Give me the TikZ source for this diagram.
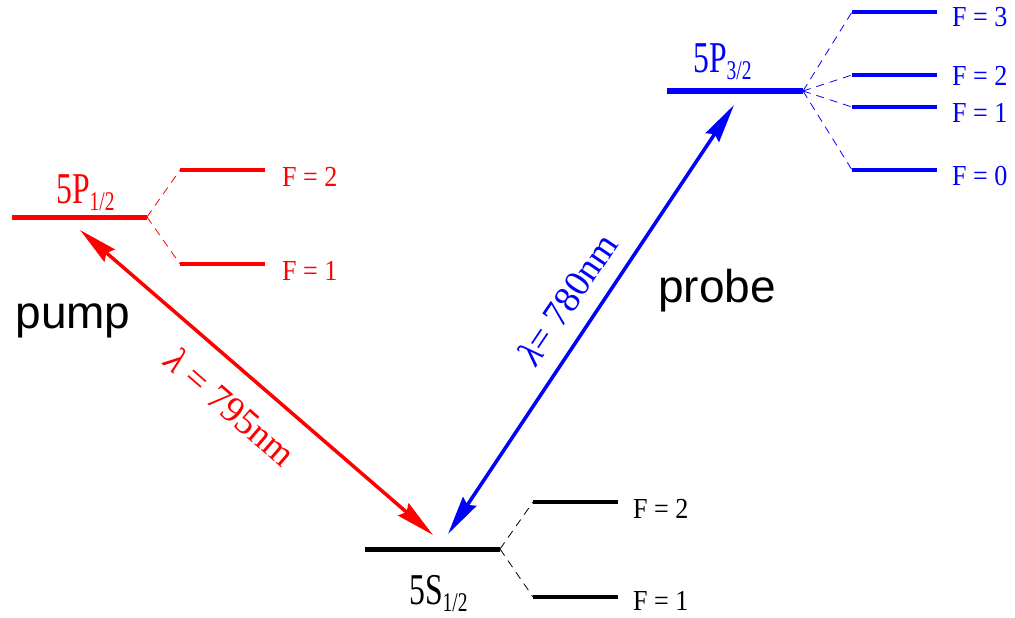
\documentclass[tikz,border=0pt]{standalone}
\usepackage{fontspec}
\setmainfont{Liberation Serif}
\setsansfont{Liberation Sans}
\usetikzlibrary{arrows.meta}
\definecolor{pred}{RGB}{255,0,0}
\definecolor{pblue}{RGB}{0,0,255}
\newcommand{\lvlname}[2]{\scalebox{0.72}[1]{\fontsize{44}{44}\selectfont 5#1\raisebox{-7pt}{\fontsize{27}{27}\selectfont #2}}}
\newcommand{\flabel}[1]{\scalebox{0.9}[1]{\fontsize{29}{29}\selectfont #1}}
\begin{document}
\begin{tikzpicture}[x=1pt,y=-1pt,
  mainlvl/.style={line width=5pt},
  sublvl/.style={line width=4pt},
  split/.style={line width=0.8pt, dash pattern=on 8pt off 6pt},
  flab/.style={anchor=base west, inner sep=0pt},
  lvllab/.style={anchor=base west, inner sep=0pt},
  trans/.style={line width=3.5pt, {Stealth[length=39pt,width=16pt,inset=4pt]}-{Stealth[length=39pt,width=16pt,inset=4pt]}},
  beam/.style={font=\sffamily\fontsize{46}{46}\selectfont, inner sep=0pt, anchor=base},
  wl/.style={font=\fontsize{37}{37}\selectfont, inner sep=0pt}]
\useasboundingbox (0,0) rectangle (1015,618);

% ---------- 5S_{1/2} (black) ----------
\coordinate (sL) at (365,549);
\coordinate (sR) at (500,549);
\coordinate (s2L) at (533,502);
\coordinate (s2R) at (618,502);
\coordinate (s1L) at (533,597);
\coordinate (s1R) at (618,597);
\draw[mainlvl] (sL) -- (sR);
\draw[sublvl] (s2L) -- (s2R);
\draw[sublvl] (s1L) -- (s1R);
\draw[split] (sR) -- (s2L);
\draw[split] (sR) -- (s1L);
\node[flab] (sF2) at (633,518) {\flabel{F = 2}};
\node[flab] (sF1) at (633,610) {\flabel{F = 1}};
\node[lvllab] (sLab) at (409,604) {\lvlname{S}{1/2}};

% ---------- 5P_{1/2} (red) ----------
\begin{scope}[pred]
\coordinate (pL) at (12,217);
\coordinate (pR) at (147,217);
\coordinate (p2L) at (180,170);
\coordinate (p2R) at (265,170);
\coordinate (p1L) at (180,264);
\coordinate (p1R) at (265,264);
\draw[mainlvl] (pL) -- (pR);
\draw[sublvl] (p2L) -- (p2R);
\draw[sublvl] (p1L) -- (p1R);
\draw[split] (pR) -- (p2L);
\draw[split] (pR) -- (p1L);
\node[flab, text=pred] (pF2) at (282,186) {\flabel{F = 2}};
\node[flab, text=pred] (pF1) at (282,280) {\flabel{F = 1}};
\node[lvllab, text=pred] (pLab) at (56,203) {\lvlname{P}{1/2}};
\end{scope}

% ---------- 5P_{3/2} (blue) ----------
\begin{scope}[pblue]
\coordinate (qL) at (667,91);
\coordinate (qR) at (803,91);
\coordinate (q3L) at (852,12);
\coordinate (q3R) at (937,12);
\coordinate (q2L) at (852,75);
\coordinate (q2R) at (937,75);
\coordinate (q1L) at (852,107);
\coordinate (q1R) at (937,107);
\coordinate (q0L) at (852,170);
\coordinate (q0R) at (937,170);
\draw[mainlvl] (qL) -- (qR);
\draw[sublvl] (q3L) -- (q3R);
\draw[sublvl] (q2L) -- (q2R);
\draw[sublvl] (q1L) -- (q1R);
\draw[sublvl] (q0L) -- (q0R);
\draw[split] (qR) -- (q3L);
\draw[split] (qR) -- (q2L);
\draw[split] (qR) -- (q1L);
\draw[split] (qR) -- (q0L);
\node[flab, text=pblue] (qF3) at (952,27) {\flabel{F = 3}};
\node[flab, text=pblue] (qF2) at (952,85) {\flabel{F = 2}};
\node[flab, text=pblue] (qF1) at (952,122) {\flabel{F = 1}};
\node[flab, text=pblue] (qF0) at (952,185) {\flabel{F = 0}};
\node[lvllab, text=pblue] (qLab) at (693,73) {\lvlname{P}{3/2}};
\end{scope}

% ---------- transitions ----------
\coordinate (rA) at (80,230);
\coordinate (rB) at (433,535);
\coordinate (bA) at (448,534);
\coordinate (bB) at (734,105);
\draw[trans, pred] (rA) -- (rB);
\draw[trans, pblue] (bA) -- (bB);
\node[wl, text=pred, rotate=-41] (rLab) at (231,407) {\textit{λ} = 795nm};
\node[wl, text=pblue, rotate=56] (bLab) at (567,299) {\textit{λ}= 780nm};

% ---------- beam labels ----------
\node[beam] (pump) at (73,328) {pump};
\node[beam] (probe) at (717,302) {probe};
\end{tikzpicture}
\end{document}
